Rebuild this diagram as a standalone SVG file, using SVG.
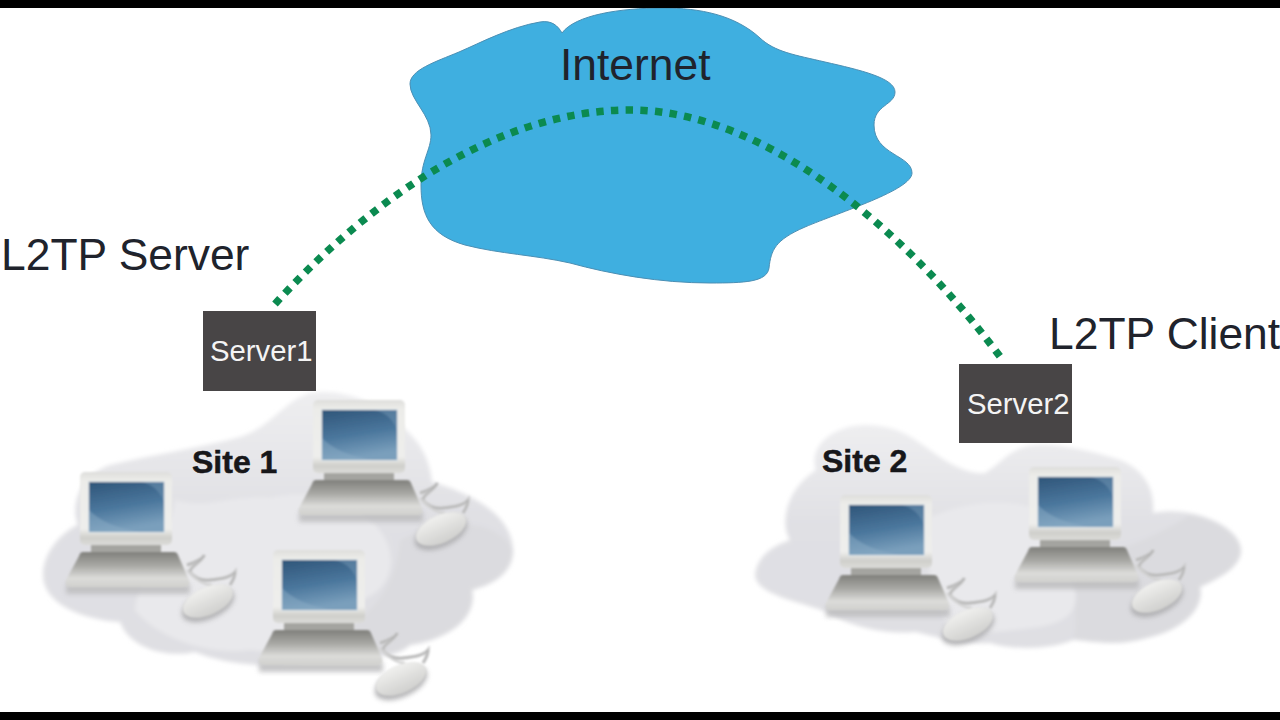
<svg xmlns="http://www.w3.org/2000/svg" xmlns:xlink="http://www.w3.org/1999/xlink" width="1280" height="720" viewBox="0 0 1280 720">
<style>
.lbl{font-family:"Liberation Sans",Arial,sans-serif;font-size:44.4px;fill:#20232c}
.srv{font-family:"Liberation Sans",Arial,sans-serif;font-size:29.3px;fill:#f4f4f4}
.site{font-family:"Liberation Sans",Arial,sans-serif;font-size:32px;font-weight:bold;fill:#17171a;stroke:#17171a;stroke-width:.5px}
.box{fill:#484546}
.c1{fill:url(#cld)}
.c2{fill:#e9e9ec}
.c3{fill:#dbdbdf}
.tunnel{fill:none;stroke:#0b8a50;stroke-width:7.5;stroke-dasharray:7.4 7.3}
</style>
<defs>
<filter id="soft" x="-5%" y="-5%" width="110%" height="110%"><feGaussianBlur stdDeviation="2"/></filter>
<filter id="soft2" x="-10%" y="-10%" width="120%" height="120%"><feGaussianBlur stdDeviation="0.8"/></filter>
<filter id="shad" x="-20%" y="-50%" width="140%" height="200%"><feGaussianBlur stdDeviation="2.5"/></filter>
<linearGradient id="cld" x1="0" y1="0" x2="0" y2="1"><stop offset="0" stop-color="#eeeef0"/><stop offset=".45" stop-color="#e0e0e4"/><stop offset="1" stop-color="#dfdfe3"/></linearGradient>
<linearGradient id="bez" x1="0" y1="0" x2="0" y2="1"><stop offset="0" stop-color="#dededc"/><stop offset=".12" stop-color="#ecece9"/><stop offset=".78" stop-color="#eeeeec"/><stop offset=".9" stop-color="#cfcfcb"/><stop offset="1" stop-color="#dcdcd9"/></linearGradient>
<linearGradient id="scr" x1="0" y1="0" x2=".25" y2="1"><stop offset="0" stop-color="#2f5579"/><stop offset=".55" stop-color="#4a769c"/><stop offset="1" stop-color="#7a9fbc"/></linearGradient>
<linearGradient id="bas" x1="0" y1="0" x2="0" y2="1"><stop offset="0" stop-color="#80807c"/><stop offset=".4" stop-color="#aaaaa6"/><stop offset=".75" stop-color="#dcdcda"/><stop offset="1" stop-color="#d0d0cd"/></linearGradient>
<linearGradient id="mou" x1="0" y1="0" x2="0" y2="1"><stop offset="0" stop-color="#f0f0ee"/><stop offset="1" stop-color="#d0d0ce"/></linearGradient>
<g id="pc">
<rect x="-14" y="112" width="124" height="10" fill="#bcbcbe" opacity=".85" filter="url(#shad)"/>
<ellipse cx="128" cy="133" rx="28" ry="14" transform="rotate(-24 128 133)" fill="#a9a9ab" opacity=".85" filter="url(#shad)"/>
<g filter="url(#soft2)">
<path d="M107 93C116 90 124 86 124 83C122 90 110 94 110 100C114 106 122 109 130 108C140 107 150 106 155 100C155 105 152 110 150 113" fill="none" stroke="#c9c9c9" stroke-width="3.5"/>
<path d="M107 93C116 90 124 86 124 83C122 90 110 94 110 100C114 106 122 109 130 108C140 107 150 106 155 100C155 105 152 110 150 113" fill="none" stroke="#a8a8a8" stroke-width="1"/>
<path d="M107 98C114 106 122 113 132 113" fill="none" stroke="#d2d2d2" stroke-width="2.5"/>
<rect x="11" y="72" width="70" height="9" fill="#a4a4a0"/>
<path d="M3 80H94Q97 80 98 83L109 108Q111 115 104 115H-9Q-16 115 -14 108L-1 84Q0 80 3 80Z" fill="url(#bas)"/>
<rect x="0" y="0" width="92" height="73" rx="5" fill="url(#bez)"/>
<rect x="8" y="9" width="77" height="52" fill="#dfe6ea"/>
<rect x="9" y="10" width="75" height="50" fill="url(#scr)"/>
<path d="M62 10Q78 14 84 30V10Z" fill="#6d92b0" opacity=".55"/>
<path d="M9 38Q24 54 60 60H9Z" fill="#8fb0c8" opacity=".45"/>
<ellipse cx="128" cy="129" rx="27" ry="14" transform="rotate(-24 128 129)" fill="url(#mou)"/>
</g>
</g>
</defs>
<rect width="1280" height="720" fill="#fff"/>
<g id="site1">
<g filter="url(#soft)">
<path class="c1" d="M110 465C150 455 200 448 240 437C270 428 285 400 310 393C340 388 375 400 400 425C420 440 430 460 432 482C460 490 512 510 513 550C513 575 490 585 472 590C478 620 445 640 410 645C390 665 340 655 320 655C285 672 225 665 195 652C170 658 130 650 120 622C85 620 43 605 43 575C43 550 65 530 78 525C70 505 80 475 110 465Z"/>
<path class="c3" d="M400 540C430 525 490 510 513 550C513 575 490 585 472 590C478 620 445 640 410 645C390 660 350 655 330 640C360 620 395 600 400 540Z"/>
<path class="c2" d="M175 500C210 510 225 495 270 498C300 490 345 495 375 525C400 550 395 590 360 600C335 640 290 655 250 650C210 655 160 640 135 610C140 570 170 540 175 500Z"/>
</g>
<use xlink:href="#pc" href="#pc" x="313" y="400"/>
<use xlink:href="#pc" href="#pc" x="80" y="472"/>
<use xlink:href="#pc" href="#pc" x="273" y="550"/>
<text class="site" x="192" y="473">Site 1</text>
</g>
<g id="site2">
<g filter="url(#soft)">
<path class="c1" d="M816 470C808 445 835 425 865 425C900 425 915 440 930 450C950 465 970 475 985 473C1000 465 1010 447 1035 445C1060 443 1095 452 1120 460C1145 470 1155 490 1153 513C1190 505 1240 525 1241 550C1241 570 1210 582 1200 587C1205 610 1180 630 1150 637C1115 648 1090 640 1073 640C1050 650 1010 650 990 643C960 645 930 635 915 632C885 635 845 625 830 613C795 600 757 595 755 575C757 555 775 545 790 540C780 525 785 490 816 470Z"/>
<path class="c3" d="M1075 560C1110 555 1150 540 1190 515C1220 520 1240 535 1241 550C1241 570 1210 582 1200 587C1205 610 1180 630 1150 637C1115 648 1090 640 1073 640C1080 620 1070 590 1075 560Z"/>
<path class="c2" d="M930 517C960 505 1000 495 1040 510C1050 540 1065 560 1075 590C1080 615 1060 625 1030 628C1000 632 970 635 950 628C930 600 925 560 930 517Z"/>
</g>
<use xlink:href="#pc" href="#pc" x="840" y="495"/>
<use xlink:href="#pc" href="#pc" x="1029" y="467"/>
<text class="site" x="822" y="472">Site 2</text>
</g>
<g id="internet">
<path fill="#3fafe0" stroke="#4b8fb4" stroke-width="1" d="M562 33C558 26 552 20 540 22C510 27 480 43 459 52C435 62 410 70 410 84C410 100 431 115 431 135C431 150 421 160 421 185C421 215 430 235 465 245C500 254 535 255 570 263C610 274 660 283 710 283C745 283 767 282 769 268C771 250 775 240 805 227C840 212 912 190 912 173C912 155 874 155 874 125C874 105 895 105 895 92C895 78 860 70 825 62C795 55 775 52 760 38C735 15 700 8 663 8C620 8 575 15 562 33Z"/>
<text class="lbl" x="560" y="80">Internet</text>
</g>
<g id="connectors">
<path class="tunnel" d="M275 304C360 210 490 110 630 110C770 110 915 240 1004 362"/>
</g>
<g id="server1">
<rect class="box" x="203" y="311" width="113" height="80"/>
<text class="srv" x="210" y="361">Server1</text>
</g>
<g id="server2">
<rect class="box" x="959" y="364" width="113" height="79"/>
<text class="srv" x="967" y="414">Server2</text>
</g>
<text class="lbl" x="1" y="270">L2TP Server</text>
<text class="lbl" x="1049" y="349">L2TP Client</text>
<rect x="0" y="0" width="1280" height="8" fill="#000"/>
<rect x="0" y="712" width="1280" height="8" fill="#000"/>
</svg>
